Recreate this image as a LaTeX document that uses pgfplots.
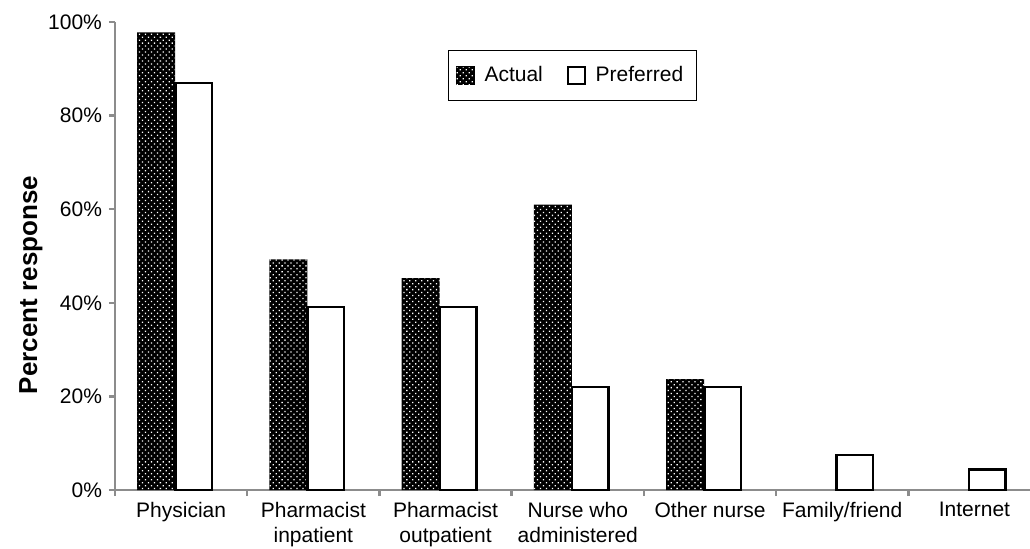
\documentclass[border=0pt]{standalone}
\usepackage{fontspec}
\setmainfont{Liberation Sans}
\usepackage{pgfplots}
\pgfplotsset{compat=1.18}
\usetikzlibrary{patterns.meta}
\begin{document}
\begin{tikzpicture}
\begin{axis}[
  scale only axis, width=457.5pt, height=234pt,
  xmin=-0.5, xmax=6.42, ymin=0, ymax=100,
  axis lines=left,
  axis line style={-, draw=black!45, line width=1.2pt},
  tick align=outside,
  major tick length=3pt,
  tick style={draw=black!45, line width=1.2pt},
  ytick={0,20,...,100},
  yticklabel={\pgfmathprintnumber{\tick}\%},
  xtick={-0.5,0.5,1.5,2.5,3.5,4.5,5.5},
  xticklabels={},
  extra x ticks={0,1,2,3,4,5,6},
  extra x tick labels={Physician,Pharmacist\\inpatient,Pharmacist\\outpatient,Nurse who\\administered,Other nurse,Family/friend,Internet},
  extra x tick style={major tick length=0pt},
  xticklabel style={align=center, yshift=-2.5pt},
  ticklabel style={font=\fontsize{10.5}{12.6}\selectfont},
  /pgf/number format/assume math mode=true,
  ylabel={Percent response},
  ylabel style={font=\bfseries\fontsize{13}{15}\selectfont, at={(ticklabel cs:0.438)}, yshift=-4pt},
  legend style={at={(0.5,0.94)}, anchor=north, legend columns=2, draw=black, line width=0.6pt,
    font=\fontsize{10.5}{12}\selectfont, inner xsep=3.5pt, inner ysep=6pt,
    /tikz/every odd column/.append style={column sep=2pt},
    /tikz/every even column/.append style={column sep=9pt},
    nodes={inner xsep=3pt}},
  legend image code/.code={\draw[#1, line width=0.9pt] (0pt,-4.25pt) rectangle (8.5pt,4.25pt);},
]
\addplot[ybar, bar width=0.287, bar shift=-0.189, draw=none, fill=black,
  postaction={pattern={Dots[distance=2.1pt, radius=0.45pt, angle=45]}, pattern color=white}]
  coordinates {(0,97.8) (1,49.3) (2,45.3) (3,61.0) (4,23.7)};
\addlegendentry{Actual}
\addplot[ybar, bar width=0.276, bar shift=0.095, draw=black, line width=1.25pt, fill=white]
  coordinates {(0,87.0) (1,39.1) (2,39.1) (3,22.0) (4,22.0) (5,7.5) (6,4.4)};
\addlegendentry{Preferred}
\coordinate (O) at (rel axis cs:0,0);
\end{axis}
\pgfresetboundingbox
\path[use as bounding box] (O) ++(-57.5pt,-29pt) rectangle ++(515pt,274pt);
\end{tikzpicture}
\end{document}
